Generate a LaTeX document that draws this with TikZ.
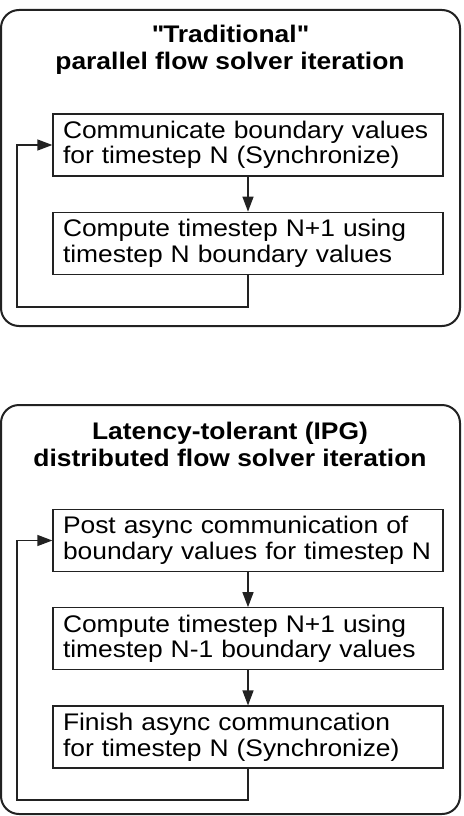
\documentclass[tikz,border=0pt]{standalone}
\usepackage{fontspec}
\setmainfont{Liberation Sans}[FakeStretch=1.1]
\usetikzlibrary{arrows.meta}
\usetikzlibrary{positioning}
\usepackage{xcolor}
\definecolor{inkgrey}{HTML}{222222}

\begin{document}
\begin{tikzpicture}[x=1pt, y=1pt,
        node distance=35pt,
        frame/.style={draw=inkgrey, line width=2pt, rounded corners=18pt},
        heading/.style={font=\fontsize{24}{27.3}\selectfont\bfseries, align=center,
          inner sep=0pt, text=black},
        stepbox/.style={draw=inkgrey, line width=1.3pt, minimum height=62pt,
          text width=370pt, inner xsep=10pt, align=left,
          font=\fontsize{24}{25.5}\selectfont, text=black},
        flow/.style={draw=inkgrey, line width=1.3pt,
          -{Triangle[length=15pt, width=11pt]}},
      ]
      \useasboundingbox (0,0) rectangle (463,-816);

      % === Traditional solver ===
      \draw[frame] (1,-10) rectangle (460,-326);
      \node[heading] (tradtitle) at (230,-50) {\textquotedbl Traditional\textquotedbl\\parallel flow solver iteration};

      \node[stepbox] (tradcomm) at (248,-145) {Communicate boundary values\\
        for timestep N (Synchronize)};
      \node[stepbox, below=of tradcomm] (tradcomp) {Compute timestep N+1 using\\
        timestep N boundary values};

      \draw[flow] (tradcomm) -- (tradcomp);
      \coordinate (tradloop) at (17,-307);
      \draw[flow] (tradcomp.south) |- (tradloop) |- (tradcomm.west);

      % === Latency-tolerant solver ===
      \draw[frame] (1,-405) rectangle (460,-814);
      \node[heading] (ipgtitle) at (230,-444.5) {Latency-tolerant (IPG)\\distributed flow solver iteration};

      \node[stepbox] (ipgpost) at (248,-540.5) {Post async communication of\\
        boundary values for timestep N};
      \node[stepbox, below=of ipgpost] (ipgcomp) {Compute timestep N+1 using\\
        timestep N-1 boundary values};
      \node[stepbox, below=of ipgcomp] (ipgsync) {Finish async communcation\\
        for timestep N (Synchronize)};

      \draw[flow] (ipgpost) -- (ipgcomp);
      \draw[flow] (ipgcomp) -- (ipgsync);
      \coordinate (ipgloop) at (17,-800);
      \draw[flow] (ipgsync.south) |- (ipgloop) |- (ipgpost.west);

\end{tikzpicture}
\end{document}
